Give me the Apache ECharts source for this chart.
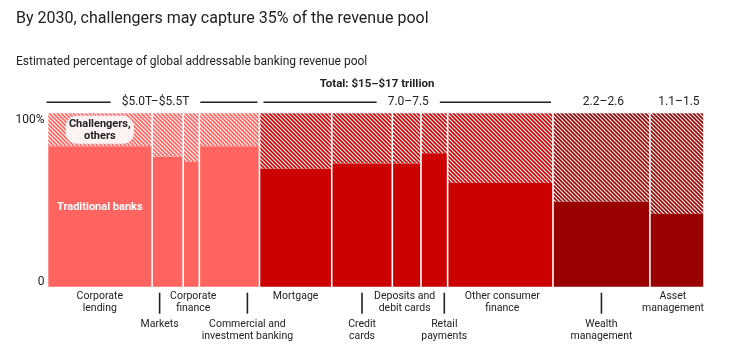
<!DOCTYPE html>
<html>
<head>
<meta charset="utf-8">
<script src="https://cdn.jsdelivr.net/npm/echarts@6/dist/echarts.min.js"></script>
<style>
html,body{margin:0;padding:0;background:#fff;}
#chart{width:730px;height:358px;}
</style>
</head>
<body>
<div id="chart"></div>
<script>
// ---- data ----
const categories = ['Corporate\nlending','Markets','Corporate\nfinance','Commercial and\ninvestment banking','Mortgage','Credit\ncards','Deposits and\ndebit cards','Retail\npayments','Other consumer\nfinance','Wealth\nmanagement','Asset\nmanagement'];
const revenuePool = [2.59, 0.77, 0.40, 1.49, 1.79, 1.50, 0.71, 0.66, 2.61, 2.40, 1.34]; // $ trillion (bar widths)
const traditionalShare = [81, 75, 72, 81, 68, 71, 71, 77, 60, 49, 42]; // % held by traditional banks
const segmentGroup = [0, 0, 0, 0, 1, 1, 1, 1, 1, 2, 3];
const groupLabels = ['$5.0T\u2013$5.5T', '7.0\u20137.5', '2.2\u20132.6', '1.1\u20131.5'];
const yTickLabels = ['0', '100%'];
const titleText = 'By 2030, challengers may capture 35% of the revenue pool';
const subtitleText = 'Estimated percentage of global addressable banking revenue pool';
const totalText = 'Total: $15\u2013$17 trillion';

// ---- layout (not data) ----
const labelLow = [false, true, false, true, false, true, false, true, false, true, false];
const labelShift = [0, -8, 2, 18, 0, 0, -2, 10, 2, 0, -4];
const groupColors = ['#FF6461', '#CC0000', '#990000', '#990000'];
const FONT = 'Roboto, "Noto Sans", sans-serif';

function makeHatch(color) {
  const p = 4;
  const c = document.createElement('canvas');
  c.width = p; c.height = p;
  const g = c.getContext('2d');
  g.fillStyle = '#fff';
  g.fillRect(0, 0, p, p);
  g.strokeStyle = color;
  g.lineWidth = 1.7;
  for (let k = -p; k <= p; k += p) {
    g.beginPath();
    g.moveTo(k - 1, -1);
    g.lineTo(k + p + 1, p + 1);
    g.stroke();
  }
  return c;
}
const hatches = groupColors.map(makeHatch);

// cumulative x extents
const barData = [];
let acc = 0;
for (let i = 0; i < revenuePool.length; i++) {
  barData.push([acc, acc + revenuePool[i], traditionalShare[i], segmentGroup[i], i]);
  acc += revenuePool[i];
}
const total = acc;
const groupData = [];
for (let gI = 0; gI < groupLabels.length; gI++) {
  const members = barData.filter(d => d[3] === gI);
  groupData.push([members[0][0], members[members.length - 1][1], gI]);
}

const chart = echarts.init(document.getElementById('chart'), null, {renderer: 'canvas'});

function renderBar(params, api) {
  const x0 = api.value(0), x1 = api.value(1), share = api.value(2), gI = api.value(3), idx = api.value(4);
  const bl = api.coord([x0, 0]);
  const tr = api.coord([x1, 100]);
  const mid = api.coord([x0, share]);
  const gap = 0.8;
  const left = bl[0] + gap, right = tr[0] - gap, w = right - left;
  const color = groupColors[gI];
  const children = [
    {type: 'rect', shape: {x: left, y: tr[1], width: w, height: mid[1] - tr[1]},
     style: {fill: {image: hatches[gI], repeat: 'repeat'}}},
    {type: 'rect', shape: {x: left, y: mid[1], width: w, height: bl[1] - mid[1]},
     style: {fill: color}}
  ];
  const cx = (left + right) / 2 + labelShift[idx];
  const low = labelLow[idx];
  if (low) {
    children.push({type: 'line', shape: {x1: cx, y1: bl[1] + 6, x2: cx, y2: bl[1] + 27},
      style: {stroke: '#222', lineWidth: 1.6}});
  }
  children.push({type: 'text', style: {
    x: cx, y: bl[1] + (low ? 32 : 3.5), text: categories[idx], align: 'center', verticalAlign: 'top',
    font: '10.5px ' + FONT, lineHeight: 12, fill: '#222'}});
  if (idx === 0) {
    const mx = (left + right) / 2;
    const hy = (tr[1] + mid[1]) / 2;
    children.push({type: 'rect', shape: {x: mx - 34, y: hy - 14, width: 68, height: 28, r: 11},
      style: {fill: 'rgba(255,255,255,0.88)'}});
    children.push({type: 'text', style: {x: mx, y: hy, text: 'Challengers,\nothers', align: 'center',
      verticalAlign: 'middle', font: 'bold 11px ' + FONT, lineHeight: 12, fill: '#222'}});
    const ty = api.coord([x0, 46])[1];
    children.push({type: 'text', style: {x: mx, y: ty, text: 'Traditional banks', align: 'center',
      verticalAlign: 'middle', font: 'bold 11px ' + FONT, fill: '#fff'}});
  }
  return {type: 'group', children};
}

function renderGroup(params, api) {
  const gx0 = api.value(0), gx1 = api.value(1), gI = api.value(2);
  const a = api.coord([gx0, 100]);
  const b = api.coord([gx1, 100]);
  const y = a[1] - 11;
  const children = [];
  if (gI < 2) {
    children.push({type: 'line', shape: {x1: a[0] + (gI > 0 ? 4 : -1), y1: y, x2: b[0] - 2, y2: y},
      style: {stroke: '#222', lineWidth: 1.5}});
  }
  children.push({type: 'text', style: {x: (a[0] + b[0]) / 2 + 2, y: y, text: groupLabels[gI], align: 'center',
    verticalAlign: 'middle', font: '12px ' + FONT, fill: '#222', backgroundColor: '#fff', padding: [2, 11]}});
  return {type: 'group', children};
}

chart.setOption({
  animation: false,
  backgroundColor: '#fff',
  title: [
    {text: titleText, left: 16, top: 11, padding: 0, textStyle: {fontSize: 16, fontWeight: 'normal', color: '#222', fontFamily: FONT}},
    {text: subtitleText, left: 16, top: 56, padding: 0, textStyle: {fontSize: 12, fontWeight: 'normal', color: '#222', fontFamily: FONT}},
    {text: totalText, left: 377, top: 78, padding: 0, textAlign: 'center', textStyle: {fontSize: 11.5, fontWeight: 'bold', color: '#222', fontFamily: FONT}}
  ],
  grid: {left: 47.5, right: 26, top: 113.3, bottom: 71.3, containLabel: false},
  xAxis: {type: 'value', min: 0, max: total, show: false},
  yAxis: {type: 'value', min: 0, max: 100, interval: 100,
    splitLine: {show: false}, axisLine: {show: false}, axisTick: {show: false},
    axisLabel: {margin: 3, color: '#222', fontSize: 12, fontFamily: FONT,
      formatter: v => v === 100 ? '{t|' + yTickLabels[1] + '}' : '{b|' + yTickLabels[0] + '}',
      rich: {t: {padding: [13, 0, 0, 0], fontSize: 12, color: '#222', fontFamily: FONT},
             b: {padding: [0, 0, 9, 0], fontSize: 12, color: '#222', fontFamily: FONT}}}},
  series: [
    {type: 'custom', renderItem: renderBar, data: barData, encode: {x: [0, 1], y: 2}, silent: true},
    {type: 'custom', renderItem: renderGroup, data: groupData, encode: {x: [0, 1]}, silent: true, z: 5}
  ]
});
</script>
</body>
</html>
